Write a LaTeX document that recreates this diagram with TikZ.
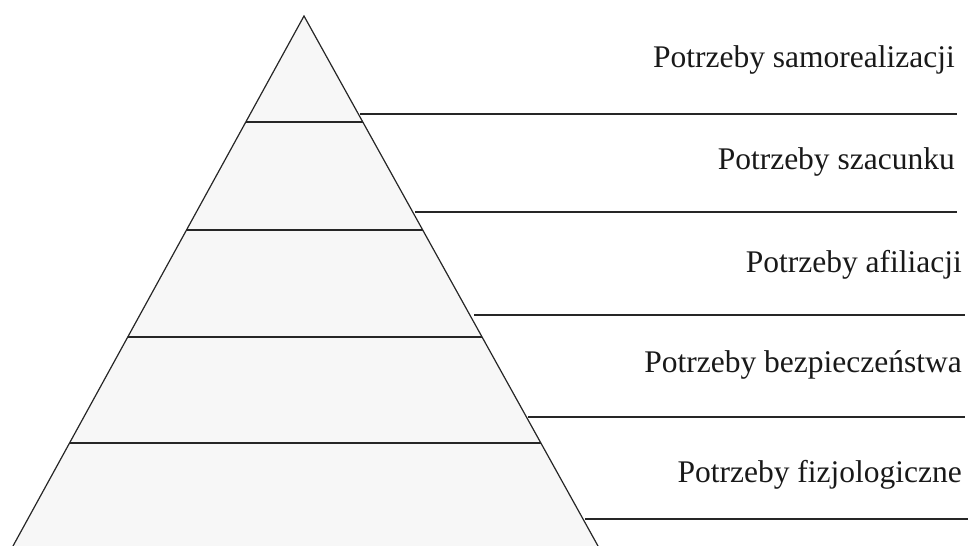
\documentclass[tikz,border=0pt]{standalone}
\usepackage{fontspec}
\setmainfont{Liberation Serif}
\begin{document}
\begin{tikzpicture}[x=1pt,y=-1pt,
  edge/.style={line width=1.2pt,draw=black!85},
  level/.style={line width=1.8pt,draw=black!85},
  lbl/.style={anchor=base east,inner sep=0pt,font=\fontsize{31.5}{36}\selectfont,text=black!90}]
\useasboundingbox (0,0) rectangle (969,546);
\coordinate (apex) at (304,16);
\coordinate (bl) at (13,546);
\coordinate (br) at (598,546);
\fill[gray!6] (apex) -- (bl) -- (br) -- cycle;
\draw[edge] (bl) -- (apex) -- (br);
% inner levels
\foreach \y in {122,230,337,443}{
  \draw[level] ({304-0.5491*(\y-16)},\y) -- ({304+0.5547*(\y-16)},\y);
}
% right lines
\draw[level] (360,114) -- (957,114);
\draw[level] (415,212) -- (957,212);
\draw[level] (474,315) -- (965,315);
\draw[level] (528,417) -- (965,417);
\draw[level] (585,519) -- (968,519);
\node[lbl] (t1) at (955,67) {Potrzeby samorealizacji};
\node[lbl] (t2) at (955,169) {Potrzeby szacunku};
\node[lbl] (t3) at (962,272) {Potrzeby afiliacji};
\node[lbl] (t4) at (962,372) {Potrzeby bezpieczeństwa};
\node[lbl] (t5) at (962,482) {Potrzeby fizjologiczne};
\end{tikzpicture}
\end{document}
